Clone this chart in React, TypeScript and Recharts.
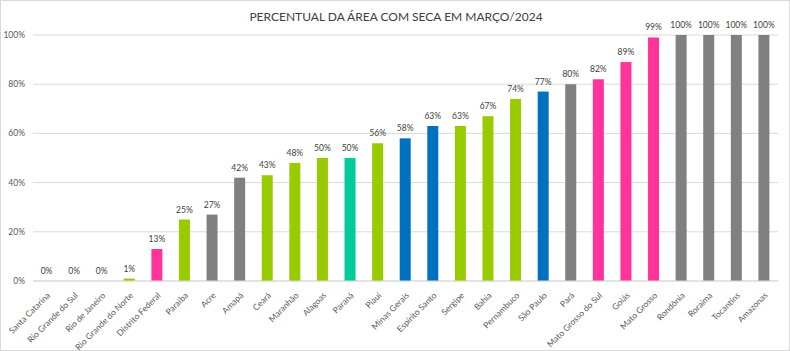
import React from "react";
import { BarChart, Bar, XAxis, YAxis, CartesianGrid } from "recharts";

const states = [
  "Santa Catarina", "Rio Grande do Sul", "Rio de Janeiro", "Rio Grande do Norte", "Distrito Federal",
  "Paraíba", "Acre", "Amapá", "Ceará", "Maranhão", "Alagoas", "Paraná", "Piauí", "Minas Gerais",
  "Espírito Santo", "Sergipe", "Bahia", "Pernambuco", "São Paulo", "Pará", "Mato Grosso do Sul",
  "Goiás", "Mato Grosso", "Rondônia", "Roraima", "Tocantins", "Amazonas",
];
const values = [0, 0, 0, 1, 13, 25, 27, 42, 43, 48, 50, 50, 56, 58, 63, 63, 67, 74, 77, 80, 82, 89, 99, 100, 100, 100, 100];
const G = "#99CC00", GR = "#808080", P = "#FF3399", B = "#0070C0", T = "#00CC99";
const colors = [G, G, G, G, P, G, GR, GR, G, G, G, T, G, B, B, G, G, G, B, GR, P, P, P, GR, GR, GR, GR];
const yTicks = [0, 20, 40, 60, 80, 100];

const data = states.map((s, i) => ({ name: s, value: values[i], color: colors[i] }));
const FONT = "Lato, 'Open Sans', sans-serif";

const XTick = (props: any) => {
  const { x, y, payload } = props;
  return (
    <g transform={`translate(${x + 4},${y + 7})`}>
      <text x={0} y={0} textAnchor="end" fontSize={8.5} fill="#595959" fontFamily={FONT} transform="rotate(-45)">
        {payload.value}
      </text>
    </g>
  );
};

const BarShape = (props: any) => {
  const { x, y, width, height, payload } = props;
  const h = Math.max(0, height || 0);
  return (
    <g>
      {h > 0 && <rect x={x} y={y} width={width} height={h} fill={payload.color} />}
      <text x={x + width / 2} y={y - 7} textAnchor="middle" fontSize={8.5} fill="#404040" fontFamily={FONT}>
        {`${payload.value}%`}
      </text>
    </g>
  );
};

export default function App() {
  return (
    <div style={{ position: "absolute", left: 0, top: 0, width: 790, height: 351, background: "#fff", boxSizing: "border-box", border: "1px solid #d9d9d9" }}>
      <div style={{ position: "absolute", left: 0, top: 8, width: 790, textAlign: "center", fontFamily: FONT, fontSize: 12, color: "#404040" }}>
        PERCENTUAL DA ÁREA COM SECA EM MARÇO/2024
      </div>
      <div style={{ position: "absolute", left: -1, top: -1 }}>
        <BarChart width={790} height={351} data={data} margin={{ top: 35, right: 12, left: 0, bottom: 0 }}>
          <CartesianGrid vertical={false} stroke="#d9d9d9" />
          <XAxis dataKey="name" interval={0} height={70} tick={<XTick />} tickLine={false} axisLine={{ stroke: "#d9d9d9" }} />
          <YAxis width={33} domain={[0, 100]} ticks={yTicks} tickFormatter={(v: number) => `${v}%`} tick={{ fontSize: 8.5, fill: "#595959", fontFamily: FONT }} tickLine={false} axisLine={false} />
          <Bar dataKey="value" isAnimationActive={false} barSize={11} shape={<BarShape />} />
        </BarChart>
      </div>
    </div>
  );
}
